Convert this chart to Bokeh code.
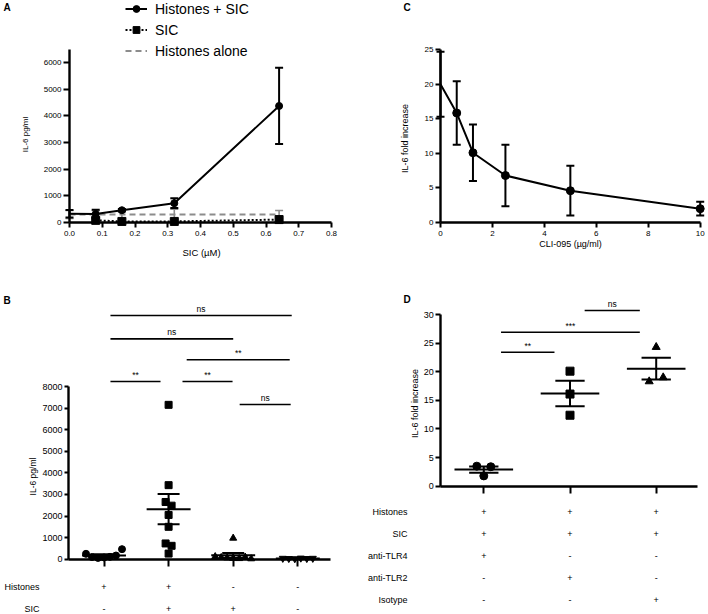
import numpy as np
from bokeh.plotting import figure
from bokeh.models import (ColumnDataSource, Range1d, FixedTicker, NumeralTickFormatter,
                          Whisker, TeeHead, Legend, LegendItem)
from bokeh.layouts import row, column
from bokeh.embed import file_html
from bokeh.resources import INLINE
from bokeh.core.properties import value

FONT = "Liberation Sans"
GREY = "#8c8c8c"

# ---------------- data ----------------
# Panel A : IL-6 (pg/ml) vs SIC (µM)
a_conc = [0.0, 0.08, 0.16, 0.32, 0.64]
a_hist_sic_mean = [330, 320, 460, 725, 4370]
a_hist_sic_err = [140, 155, 50, 185, 1430]
a_sic_conc = [0.08, 0.16, 0.32, 0.64]
a_sic_mean = [80, 40, 40, 110]
a_hist_alone_mean = [300, 300, 300, 300, 300]
a_hist_alone_err = [150, 150, 150, 200, 150]
a_xticks = [0.0, 0.1, 0.2, 0.3, 0.4, 0.5, 0.6, 0.7, 0.8]
a_yticks = [0, 1000, 2000, 3000, 4000, 5000, 6000]

# Panel C : IL-6 fold increase vs CLI-095 (µg/ml)
c_conc = [0, 0.625, 1.25, 2.5, 5, 10]
c_mean = [20.0, 15.85, 10.1, 6.8, 4.6, 2.0]
c_err = [4.7, 4.6, 4.1, 4.45, 3.6, 1.0]
c_xticks = [0, 2, 4, 6, 8, 10]
c_yticks = [0, 5, 10, 15, 20, 25]

# Panel B : IL-6 pg/ml, four conditions
b_hist_only = [250, 100, 60, 80, 110, 170, 465]
b_hist_sic = [7150, 3430, 2650, 2480, 2050, 1500, 730, 620, 260]
b_sic_only = [975, 120, 80, 60, 40, 30, 100, 20]
b_medium = [40, 30, 20, 50, 30, 40]
b_row_histones = ["+", "+", "-", "-"]
b_row_sic = ["-", "+", "+", "-"]
b_yticks = [0, 1000, 2000, 3000, 4000, 5000, 6000, 7000, 8000]
# significance brackets: (from, to, level, label)
b_sig = [(1.10, 1.875, 8230, "**"), (2.215, 2.99, 8230, "**"), (3.10, 3.89, 7165, "ns"),
         (2.28, 3.875, 9236, "**"), (1.10, 3.00, 10208, "ns"), (1.10, 3.906, 11288, "ns")]

# Panel D : IL-6 fold increase, antibody blocking
d_tlr4 = [3.5, 3.4, 1.8]
d_tlr2 = [20.1, 16.1, 12.4]
d_iso = [24.3, 18.3, 19.0]
d_row_names = ["Histones", "SIC", "anti-TLR4", "anti-TLR2", "Isotype"]
d_rows = [["+", "+", "+"], ["+", "+", "+"], ["+", "-", "-"], ["-", "+", "-"], ["-", "-", "+"]]
d_yticks = [0, 5, 10, 15, 20, 25, 30]
d_sig = [(2.17, 2.81, 30.7, "ns"), (1.20, 2.81, 26.9, "***"), (1.20, 1.82, 23.4, "**")]


# ---------------- helpers ----------------
def lin(p0, v0, p1, v1):
    k = (v1 - v0) / (p1 - p0)
    return lambda p: v0 + (p - p0) * k


def make_fig(fx, fy, px0, px1, py0, py1):
    p = figure(width=px1 - px0, height=py1 - py0, x_range=Range1d(fx(px0), fx(px1)),
               y_range=Range1d(fy(py1), fy(py0)), output_backend="svg",
               toolbar_location=None, min_border=0, min_border_left=0, min_border_right=0,
               min_border_top=0, min_border_bottom=0)
    p.outline_line_color = None
    p.grid.visible = False
    p.background_fill_color = "white"
    p.border_fill_color = "white"
    return p


def style_axes(p, xticks, yticks, xb, yb, tick_fs, xtick_out, ytick_out, xlabels=True):
    p.xaxis.fixed_location = yb[0]
    p.yaxis.fixed_location = xb[0]
    p.xaxis.bounds = xb
    p.yaxis.bounds = yb
    p.xaxis.ticker = FixedTicker(ticks=xticks)
    p.yaxis.ticker = FixedTicker(ticks=yticks)
    for ax in (p.xaxis[0], p.yaxis[0]):
        ax.axis_line_width = 2.4
        ax.axis_line_color = "black"
        ax.major_tick_line_width = 2
        ax.major_tick_line_color = "black"
        ax.major_tick_in = 0
        ax.minor_tick_in = 0
        ax.minor_tick_out = 0
        ax.major_label_text_font = FONT
        ax.major_label_text_font_size = tick_fs
        ax.major_label_text_color = "black"
    p.xaxis.major_tick_out = xtick_out
    p.yaxis.major_tick_out = ytick_out
    p.xaxis.major_label_standoff = 3
    p.yaxis.major_label_standoff = 2
    if not xlabels:
        p.xaxis.major_label_overrides = {t: "" for t in xticks}


def txt(p, xs, ys, texts, size, align="center", bold=False, baseline="middle", angle=0.0):
    p.text(x=xs, y=ys, text=texts, text_font=value(FONT), text_font_size=size,
           text_align=align, text_baseline=baseline, text_color="black", angle=angle,
           text_font_style="bold" if bold else "normal")


def swarm(vals, px_per_unit, px_per_cat, row_px=9.0, step_px=6.0):
    n = len(vals)
    order = sorted(range(n), key=lambda i: -vals[i])
    rows = []
    for i in order:
        if rows and (vals[rows[-1][0]] - vals[i]) * px_per_unit < row_px:
            rows[-1].append(i)
        else:
            rows.append([i])
    offs = [0.0] * n
    for r in rows:
        r = sorted(r)
        k = len(r)
        for j, i in enumerate(r):
            offs[i] = (j - (k - 1) / 2.0) * step_px / px_per_cat
    return offs


def group_plot(p, groups, markers, sizes, px_per_unit, px_per_cat, step_px):
    for gi, (vals, mk, sz) in enumerate(zip(groups, markers, sizes)):
        c = gi + 1
        offs = swarm(vals, px_per_unit, px_per_cat, step_px=step_px)
        p.scatter([c + o for o in offs], vals, marker=mk, size=sz, color="black")
        arr = np.array(vals, dtype=float)
        m = arr.mean()
        s = arr.std(ddof=1) / np.sqrt(len(arr))
        p.segment([c - 0.34], [m], [c + 0.34], [m], line_width=2, line_color="black")
        p.segment([c], [m - s], [c], [m + s], line_width=2, line_color="black")
        p.segment([c - 0.17, c - 0.17], [m - s, m + s], [c + 0.17, c + 0.17], [m - s, m + s],
                  line_width=2, line_color="black")


def sig_bars(p, sig, fs, dy_px):
    for x0, x1, lvl, lab in sig:
        p.segment([x0], [lvl], [x1], [lvl], line_width=1.6, line_color="black")
        p.text(x=[(x0 + x1) / 2], y=[lvl], text=[lab], y_offset=-dy_px,
               text_font=value(FONT), text_font_size=fs, text_align="center",
               text_baseline="middle", text_color="black")


VERT = np.pi / 2

# ---------------- Panel A ----------------
fxA = lin(69, 0.0, 331, 0.8)
fyA = lin(222, 0, 62, 6000)
pA = make_fig(fxA, fyA, 0, 354, 0, 290)
style_axes(pA, a_xticks, a_yticks, (0.0, 0.8), (0, 6500), "8px", 5, 6)
pA.xaxis.formatter = NumeralTickFormatter(format="0.0")

src_ha = ColumnDataSource(dict(x=a_conc,
                               lo=[m - e for m, e in zip(a_hist_alone_mean, a_hist_alone_err)],
                               hi=[m + e for m, e in zip(a_hist_alone_mean, a_hist_alone_err)]))
pA.add_layout(Whisker(source=src_ha, base="x", lower="lo", upper="hi", line_color=GREY,
                      line_width=1.6,
                      lower_head=TeeHead(size=8, line_color=GREY, line_width=1.6),
                      upper_head=TeeHead(size=8, line_color=GREY, line_width=1.6)))
l_ha = pA.line(a_conc, a_hist_alone_mean, line_color=GREY, line_width=2, line_dash="6 4")

src_hs = ColumnDataSource(dict(x=a_conc,
                               lo=[m - e for m, e in zip(a_hist_sic_mean, a_hist_sic_err)],
                               hi=[m + e for m, e in zip(a_hist_sic_mean, a_hist_sic_err)]))
pA.add_layout(Whisker(source=src_hs, base="x", lower="lo", upper="hi", line_color="black",
                      line_width=2,
                      lower_head=TeeHead(size=8, line_color="black", line_width=2),
                      upper_head=TeeHead(size=8, line_color="black", line_width=2)))
l_hs = pA.line(a_conc, a_hist_sic_mean, line_color="black", line_width=2)
hs_pts = [(x, y) for x, y in zip(a_conc, a_hist_sic_mean) if x > 0]
s_hs = pA.scatter([q[0] for q in hs_pts], [q[1] for q in hs_pts], marker="circle", size=7,
                  color="black")
l_sic = pA.line(a_sic_conc, a_sic_mean, line_color="black", line_width=2, line_dash="2 2")
s_sic = pA.scatter(a_sic_conc, a_sic_mean, marker="square", size=8, color="black")

legA = Legend(items=[LegendItem(label="Histones + SIC", renderers=[l_hs, s_hs]),
                     LegendItem(label="SIC", renderers=[l_sic, s_sic]),
                     LegendItem(label="Histones alone", renderers=[l_ha])],
              location=(125, 231), glyph_width=22, glyph_height=17, label_height=17,
              spacing=4, label_standoff=8, padding=0, margin=0,
              label_text_font=FONT, label_text_font_size="14px", label_text_color="black",
              border_line_color=None, background_fill_alpha=0)
pA.add_layout(legA)
txt(pA, [fxA(3)], [fyA(7)], ["A"], "10px", align="left", bold=True)
txt(pA, [fxA(201)], [fyA(252)], ["SIC (µM)"], "9.5px")
txt(pA, [fxA(25)], [fyA(134)], ["IL-6 pg/ml"], "8px", angle=VERT)

# ---------------- Panel C ----------------
fxC = lin(440, 0, 699.7, 10)
fyC = lin(222, 0, 49.3, 25)
pC = make_fig(fxC, fyC, 354, 708, 0, 290)
style_axes(pC, c_xticks, c_yticks, (0, 10), (0, 25), "8px", 5, 5)
src_c = ColumnDataSource(dict(x=c_conc,
                              lo=[m - e for m, e in zip(c_mean, c_err)],
                              hi=[m + e for m, e in zip(c_mean, c_err)]))
pC.add_layout(Whisker(source=src_c, base="x", lower="lo", upper="hi", line_color="black",
                      line_width=2,
                      lower_head=TeeHead(size=8, line_color="black", line_width=2),
                      upper_head=TeeHead(size=8, line_color="black", line_width=2)))
pC.line(c_conc, c_mean, line_color="black", line_width=2)
c_pts = [(x, y) for x, y in zip(c_conc, c_mean) if x > 0]
pC.scatter([q[0] for q in c_pts], [q[1] for q in c_pts], marker="circle", size=8, color="black")
txt(pC, [fxC(403)], [fyC(7)], ["C"], "10px", align="left", bold=True)
txt(pC, [fxC(570)], [fyC(243)], ["CLI-095 (µg/ml)"], "9px")
txt(pC, [fxC(404)], [fyC(138)], ["IL-6 fold increase"], "9px", angle=VERT)

# ---------------- Panel B ----------------
fxB = lin(103.5, 1, 297.3, 4)
fyB = lin(558.7, 0, 386, 8000)
pB = make_fig(fxB, fyB, 0, 354, 290, 614)
style_axes(pB, [1, 2, 3, 4], b_yticks, (0.45, 4.5), (0, 8000), "9px", 7, 4, xlabels=False)
group_plot(pB, [b_hist_only, b_hist_sic, b_sic_only, b_medium],
           ["circle", "square", "triangle", "inverted_triangle"], [7, 7, 7, 7],
           (558.7 - 386) / 8000, 64.6, 6.0)
sig_bars(pB, b_sig, "8.5px", 7)
cats_B = [1, 2, 3, 4]
txt(pB, [fxB(39)], [fyB(586)], ["Histones"], "9px", align="right")
txt(pB, [fxB(39)], [fyB(608)], ["SIC"], "9px", align="right")
txt(pB, cats_B, [fyB(586)] * 4, b_row_histones, "9px")
txt(pB, cats_B, [fyB(608)] * 4, b_row_sic, "9px")
txt(pB, [fxB(3)], [fyB(300)], ["B"], "10px", align="left", bold=True)
txt(pB, [fxB(32)], [fyB(476)], ["IL-6 pg/ml"], "8.5px", angle=VERT)

# ---------------- Panel D ----------------
fxD = lin(483.3, 1, 655.7, 3)
fyD = lin(485.7, 0, 314, 30)
pD = make_fig(fxD, fyD, 354, 708, 290, 614)
style_axes(pD, [1, 2, 3], d_yticks, (0.5, 3.48), (0, 30), "9px", 7, 5, xlabels=False)
group_plot(pD, [d_tlr4, d_tlr2, d_iso], ["circle", "square", "triangle"], [8, 8, 8],
           (485.7 - 314) / 30, 86.2, 14.0)
sig_bars(pD, d_sig, "8.5px", 6)
for i, (name, vals) in enumerate(zip(d_row_names, d_rows)):
    yy = fyD(511 + 22 * i)
    txt(pD, [fxD(407)], [yy], [name], "9px", align="right")
    txt(pD, [1, 2, 3], [yy] * 3, vals, "9px")
txt(pD, [fxD(403)], [fyD(299)], ["D"], "10px", align="left", bold=True)
txt(pD, [fxD(414)], [fyD(403)], ["IL-6 fold increase"], "9px", angle=VERT)

layout = column(row(pA, pC, spacing=0), row(pB, pD, spacing=0), spacing=0)
open("out.html", "w").write(file_html(layout, INLINE))
